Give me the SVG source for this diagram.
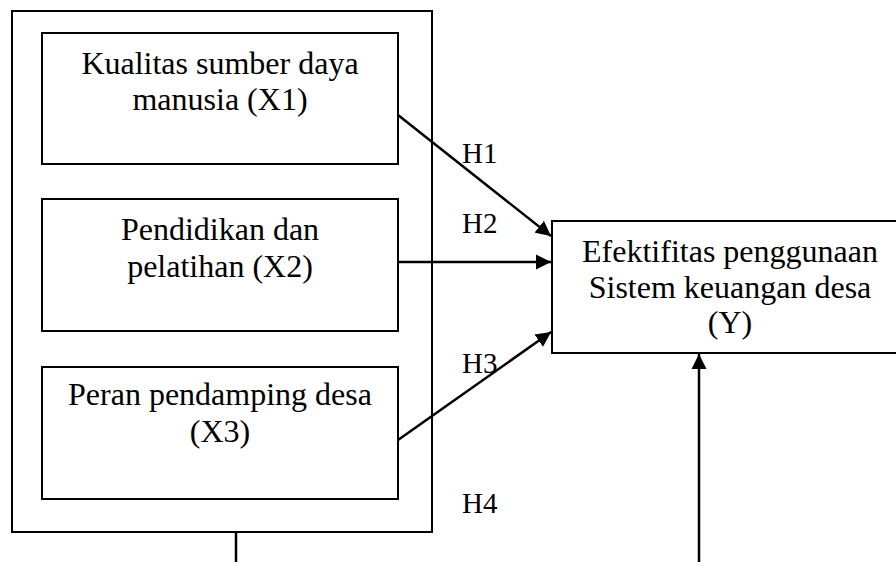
<svg xmlns="http://www.w3.org/2000/svg" width="896" height="562" viewBox="0 0 896 562">
  <style>
    .box { fill: #ffffff; stroke: #000000; stroke-width: 2; }
    .frame { fill: none; stroke: #000000; stroke-width: 2; }
    .lbl { font-size: 32px; fill: #000000; text-anchor: middle; }
    .h { font-size: 29px; fill: #000000; }
    .conn { fill: none; stroke: #000000; stroke-width: 2.5; }
  </style>
  <defs>
    <marker id="arrow" markerUnits="userSpaceOnUse" markerWidth="17" markerHeight="16" refX="15" refY="8" orient="auto">
      <path d="M0,0.5 L15,8 L0,15.5 Z" fill="#000000"/>
    </marker>
  </defs>

  <rect width="896" height="562" fill="#ffffff"/>

  <g font-family="Liberation Serif, Tinos, DejaVu Serif, serif">
    <!-- outer grouping frame around the independent variables -->
    <g id="frame-x">
      <rect class="frame" x="12" y="11" width="420" height="521"/>
    </g>

    <g id="node-x1">
      <rect class="box" x="42" y="33" width="356" height="131"/>
      <text class="lbl" x="220" y="74">Kualitas sumber daya</text>
      <text class="lbl" x="220" y="110">manusia (X1)</text>
    </g>

    <g id="node-x2">
      <rect class="box" x="42" y="199" width="356" height="132"/>
      <text class="lbl" x="220" y="240">Pendidikan dan</text>
      <text class="lbl" x="220" y="277">pelatihan (X2)</text>
    </g>

    <g id="node-x3">
      <rect class="box" x="42" y="367" width="356" height="132"/>
      <text class="lbl" x="220" y="405">Peran pendamping desa</text>
      <text class="lbl" x="220" y="442">(X3)</text>
    </g>

    <g id="node-y">
      <rect class="box" x="552" y="221" width="358" height="132"/>
      <text class="lbl" x="730" y="262">Efektifitas penggunaan</text>
      <text class="lbl" x="730" y="298">Sistem keuangan desa</text>
      <text class="lbl" x="730" y="333">(Y)</text>
    </g>

    <g id="connectors">
      <line class="conn" x1="398" y1="115" x2="551" y2="236" marker-end="url(#arrow)"/>
      <line class="conn" x1="398" y1="262" x2="551" y2="262" marker-end="url(#arrow)"/>
      <line class="conn" x1="398" y1="440" x2="551" y2="332" marker-end="url(#arrow)"/>
      <line class="conn" x1="236" y1="532" x2="236" y2="562"/>
      <line class="conn" x1="699" y1="562" x2="699" y2="354" marker-end="url(#arrow)"/>
    </g>

    <g id="hypothesis-labels">
      <text class="h" x="462" y="163">H1</text>
      <text class="h" x="462" y="233">H2</text>
      <text class="h" x="462" y="373">H3</text>
      <text class="h" x="462" y="513">H4</text>
    </g>
  </g>
</svg>
